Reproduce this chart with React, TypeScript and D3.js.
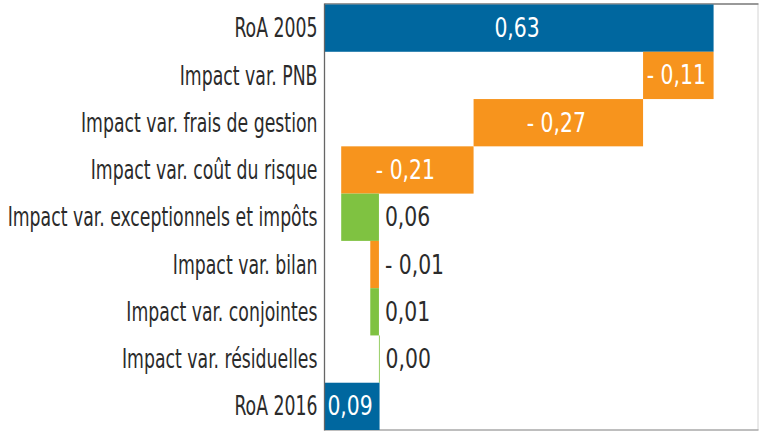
import * as d3 from 'd3'

const WIDTH = 759
const HEIGHT = 433
const MARGIN = { top: 4.5, right: 1.5, bottom: 3, left: 324.5 }

const FONT = '"DejaVu Sans Condensed", "Liberation Sans Narrow", sans-serif'
const LABEL_SCALE = 0.74
const VALUE_SCALE = 0.87

const categories = [
  'RoA 2005',
  'Impact var. PNB',
  'Impact var. frais de gestion',
  'Impact var. coût du risque',
  'Impact var. exceptionnels et impôts',
  'Impact var. bilan',
  'Impact var. conjointes',
  'Impact var. résiduelles',
  'RoA 2016',
]

// 'total' bars start at zero, the others stack on the running sum
const kinds = ['total', 'delta', 'delta', 'delta', 'delta', 'delta', 'delta', 'delta', 'total']
const values = [0.629, -0.114, -0.274, -0.214, 0.061, -0.014, 0.014, 0.001, 0.089]

const xTicks = [0, 0.7]

const COLORS = {
  total: '#00679f',
  up: '#7fc241',
  down: '#f7941d',
}

function formatValue(value) {
  const text = Math.abs(value).toFixed(2).replace('.', ',')
  return value < 0 ? `- ${text}` : text
}

export default function App() {
  const x = d3
    .scaleLinear()
    .domain(d3.extent(xTicks))
    .range([MARGIN.left, WIDTH - MARGIN.right])

  const y = d3
    .scaleBand()
    .domain(categories)
    .range([MARGIN.top, HEIGHT - MARGIN.bottom])
    .padding(0)

  let running = 0
  const bars = categories.map((name, i) => {
    let start
    let end
    if (kinds[i] === 'total') {
      start = 0
      end = values[i]
      running = values[i]
    } else {
      start = running
      end = running + values[i]
      running = end
    }
    const color = kinds[i] === 'total' ? COLORS.total : values[i] < 0 ? COLORS.down : COLORS.up
    return { name, value: values[i], start, end, color }
  })

  return (
    <svg
      width={WIDTH}
      height={HEIGHT}
      style={{ position: 'absolute', left: 0, top: 0, background: '#fff' }}
      fontFamily={FONT}
    >
      {/* frame */}
      <line x1={x(0.7) + 0.5} x2={x(0.7) + 0.5} y1={MARGIN.top} y2={HEIGHT - MARGIN.bottom} stroke="#d4d4d4" strokeWidth={1} />
      <line x1={MARGIN.left} x2={x(0.7) + 1} y1={HEIGHT - MARGIN.bottom} y2={HEIGHT - MARGIN.bottom} stroke="#a8a8a8" strokeWidth={1.5} />
      <line x1={MARGIN.left} x2={x(0.7) + 1} y1={MARGIN.top - 0.5} y2={MARGIN.top - 0.5} stroke="#777" strokeWidth={1.5} />

      {bars.map((bar) => {
        const x0 = x(Math.min(bar.start, bar.end))
        const x1 = x(Math.max(bar.start, bar.end))
        const w = Math.max(x1 - x0, 0.8)
        const yTop = y(bar.name)
        const h = y.bandwidth()
        const cy = yTop + h / 2
        const inside = x1 - x0 > 48
        return (
          <g key={bar.name}>
            <rect x={x0} y={yTop} width={w} height={h} fill={bar.color} />
            <text
              transform={`translate(${inside ? (x0 + x1) / 2 - 2 : x1 + 6},${cy}) scale(${VALUE_SCALE},1)`}
              textAnchor={inside ? 'middle' : 'start'}
              dominantBaseline="central"
              fontSize={26}
              fill={inside ? '#fff' : '#2b2b2b'}
            >
              {formatValue(bar.value)}
            </text>
          </g>
        )
      })}

      {/* category labels */}
      {categories.map((name) => (
        <text
          key={name}
          transform={`translate(${MARGIN.left - 7},${y(name) + y.bandwidth() / 2}) scale(${LABEL_SCALE},1)`}
          textAnchor="end"
          dominantBaseline="central"
          fontSize={26}
          fill="#2b2b2b"
        >
          {name}
        </text>
      ))}

      {/* left axis */}
      <line x1={MARGIN.left} x2={MARGIN.left} y1={MARGIN.top - 1} y2={HEIGHT - MARGIN.bottom + 0.5} stroke="#666" strokeWidth={1.3} />
    </svg>
  )
}
